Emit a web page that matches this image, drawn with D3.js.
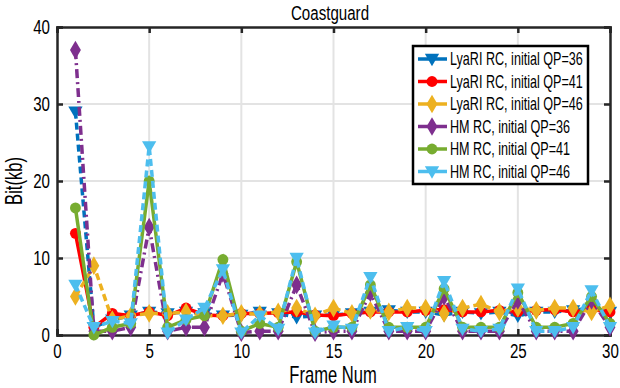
<!DOCTYPE html>
<html><head><meta charset="utf-8">
<script src="https://cdn.jsdelivr.net/npm/d3@7"></script>
<style>body{margin:0;background:#fff}text{font-family:"Liberation Sans",Arial,sans-serif}</style>
</head><body><svg id="c" width="620" height="388"></svg>
<script>
const frames = d3.range(1, 31);
const lyari36 = [29, 1, 2, 2.5, 3, 2.8, 3, 2.8, 2.5, 2.6, 3, 2.8, 2.3, 2.5, 2.6, 2.8, 3, 3.2, 3, 3, 2.6, 3, 2.8, 3, 2.5, 3, 3, 3.2, 3.5, 3];
const lyari41 = [13.2, 1, 2.8, 2.5, 3, 2.5, 3.5, 2.6, 2.5, 2.8, 2.8, 2.9, 3, 2.6, 2.5, 2.8, 3, 3, 3, 3.2, 3.3, 3, 3, 3.2, 3, 3.2, 3.3, 3, 3.3, 3];
const lyari46 = [5, 9, 2, 2.5, 2.8, 2.8, 3, 2.5, 2.5, 2.8, 2.7, 3, 3.5, 2.5, 3.5, 2.8, 3.2, 3, 3.5, 3.5, 2.8, 3.5, 4, 3, 3.5, 3.2, 3.5, 3.5, 3, 3.8];
const hm36 = [37, 0.5, 0.5, 1, 14, 0.5, 1, 1, 8, 0.3, 0.5, 0.5, 6.5, 0.3, 0.5, 0.5, 5.5, 0.5, 0.5, 0.5, 5, 0.5, 0.5, 0.5, 4.5, 0.5, 0.5, 0.5, 4.5, 1];
const hm41 = [16.5, 0, 1, 1.5, 20, 1, 2, 2.5, 9.8, 0.5, 1.5, 1, 9.5, 0.5, 1, 1, 6.5, 1, 1, 1, 6, 1, 1, 1, 5.5, 1, 1, 1.5, 5, 1.5];
const hm46 = [6.5, 1, 1.8, 1.5, 24.5, 0.3, 2, 3.5, 8.5, 0.3, 2.5, 0.8, 10, 0.3, 1.2, 0.8, 7.5, 0.5, 1, 0.5, 7, 0.8, 0.5, 0.8, 6, 0.5, 0.5, 1, 5.8, 1];
const xTicks = [0, 5, 10, 15, 20, 25, 30];
const yTicks = [0, 10, 20, 30, 40];
const seriesNames = ["LyaRI RC, initial QP=36", "LyaRI RC, initial QP=41", "LyaRI RC, initial QP=46", "HM RC, initial QP=36", "HM RC, initial QP=41", "HM RC, initial QP=46"];

const series = [
  {name: seriesNames[0], values: lyari36, color: "#0072bd", dash: "7,4", marker: "tri"},
  {name: seriesNames[1], values: lyari41, color: "#ff0000", dash: null, marker: "circle"},
  {name: seriesNames[2], values: lyari46, color: "#edb120", dash: "7,4", marker: "diamond"},
  {name: seriesNames[3], values: hm36, color: "#7e2f8e", dash: "9,4,2,4", marker: "diamond"},
  {name: seriesNames[4], values: hm41, color: "#77ac30", dash: null, marker: "circle"},
  {name: seriesNames[5], values: hm46, color: "#4dbeee", dash: "7,4", marker: "tri"}
];

const K = 0.72; // horizontal condensing of text
const svg = d3.select("#c");
const L = 57, R = 610, T = 27, B = 335;
const x = d3.scaleLinear().domain([0, 30]).range([L, R]);
const y = d3.scaleLinear().domain([0, 40]).range([B, T]);
const axisColor = "#262626";

function ntext(parent, px, py, size, anchor, str, rot) {
  const g = parent.append("g").attr("transform", `translate(${px},${py})` + (rot ? ` rotate(${rot})` : "") + ` scale(${K},1)`);
  g.append("text").attr("text-anchor", anchor).style("font-size", size + "px").attr("fill", "#000").text(str);
  return g;
}

// grid
svg.append("g").selectAll("line").data(xTicks.slice(1, -1)).join("line")
  .attr("x1", d => x(d)).attr("x2", d => x(d)).attr("y1", T).attr("y2", B)
  .attr("stroke", "#e3e3e3").attr("stroke-width", 2);
svg.append("g").selectAll("line").data(yTicks.slice(1, -1)).join("line")
  .attr("y1", d => y(d)).attr("y2", d => y(d)).attr("x1", L).attr("x2", R)
  .attr("stroke", "#e3e3e3").attr("stroke-width", 2);

// axes
const xa = svg.append("g").attr("transform", `translate(0,${B})`)
  .call(d3.axisBottom(x).tickValues(xTicks).tickSize(-6).tickPadding(8).tickFormat(d3.format("d")));
const xt = svg.append("g").attr("transform", `translate(0,${T})`)
  .call(d3.axisTop(x).tickValues(xTicks).tickSize(-6).tickFormat(""));
const ya = svg.append("g").attr("transform", `translate(${L},0)`)
  .call(d3.axisLeft(y).tickValues(yTicks).tickSize(-6).tickPadding(6).tickFormat(d3.format("d")));
const yr = svg.append("g").attr("transform", `translate(${R},0)`)
  .call(d3.axisRight(y).tickValues(yTicks).tickSize(-6).tickFormat(""));
[xa, xt, ya, yr].forEach(g => {
  g.select(".domain").attr("stroke", axisColor).attr("stroke-width", 2.5);
  g.selectAll(".tick line").attr("stroke", axisColor).attr("stroke-width", 2.5);
  g.selectAll(".tick text").attr("fill", "#000").style("font-size", "21px")
    .attr("transform", `scale(${K},1)`);
});
ya.selectAll(".tick text").attr("x", -7 / K);

// markers
function markerPath(type, s) {
  if (type === "circle") return d3.symbol(d3.symbolCircle, s * s * 0.55)();
  if (type === "diamond") return `M0,${-s * 0.72}L${s * 0.42},0L0,${s * 0.72}L${-s * 0.42},0Z`;
  return `M${-s * 0.55},${-s * 0.4}L${s * 0.55},${-s * 0.4}L0,${s * 0.55}Z`;
}

const line = d3.line().x((d, i) => x(frames[i])).y(d => y(d));
const plot = svg.append("g");
series.forEach(s => {
  const g = plot.append("g");
  g.append("path").attr("d", line(s.values)).attr("fill", "none")
    .attr("stroke", s.color).attr("stroke-width", 3.5)
    .attr("stroke-dasharray", s.dash);
  g.selectAll("path.m").data(s.values).join("path").attr("class", "m")
    .attr("transform", (d, i) => `translate(${x(frames[i])},${y(d)})`)
    .attr("d", markerPath(s.marker, 13)).attr("fill", s.color);
});

// title & labels
ntext(svg, 330, 20, 21, "middle", "Coastguard");
ntext(svg, 333, 383, 23, "middle", "Frame Num");
ntext(svg, 22, 181, 23, "middle", "Bit(kb)", -90);

// legend
const lg = svg.append("g");
lg.append("rect").attr("x", 413).attr("y", 46).attr("width", 175).attr("height", 138)
  .attr("fill", "#fff").attr("stroke", "#000").attr("stroke-width", 2.5);
series.forEach((s, i) => {
  const cy = 59 + i * 22.5;
  lg.append("line").attr("x1", 418).attr("x2", 447).attr("y1", cy).attr("y2", cy)
    .attr("stroke", s.color).attr("stroke-width", 3.5);
  lg.append("path").attr("transform", `translate(432,${cy})`).attr("d", markerPath(s.marker, 13)).attr("fill", s.color);
  ntext(lg, 450, cy + 6, 17.5, "start", s.name);
});
</script></body></html>
